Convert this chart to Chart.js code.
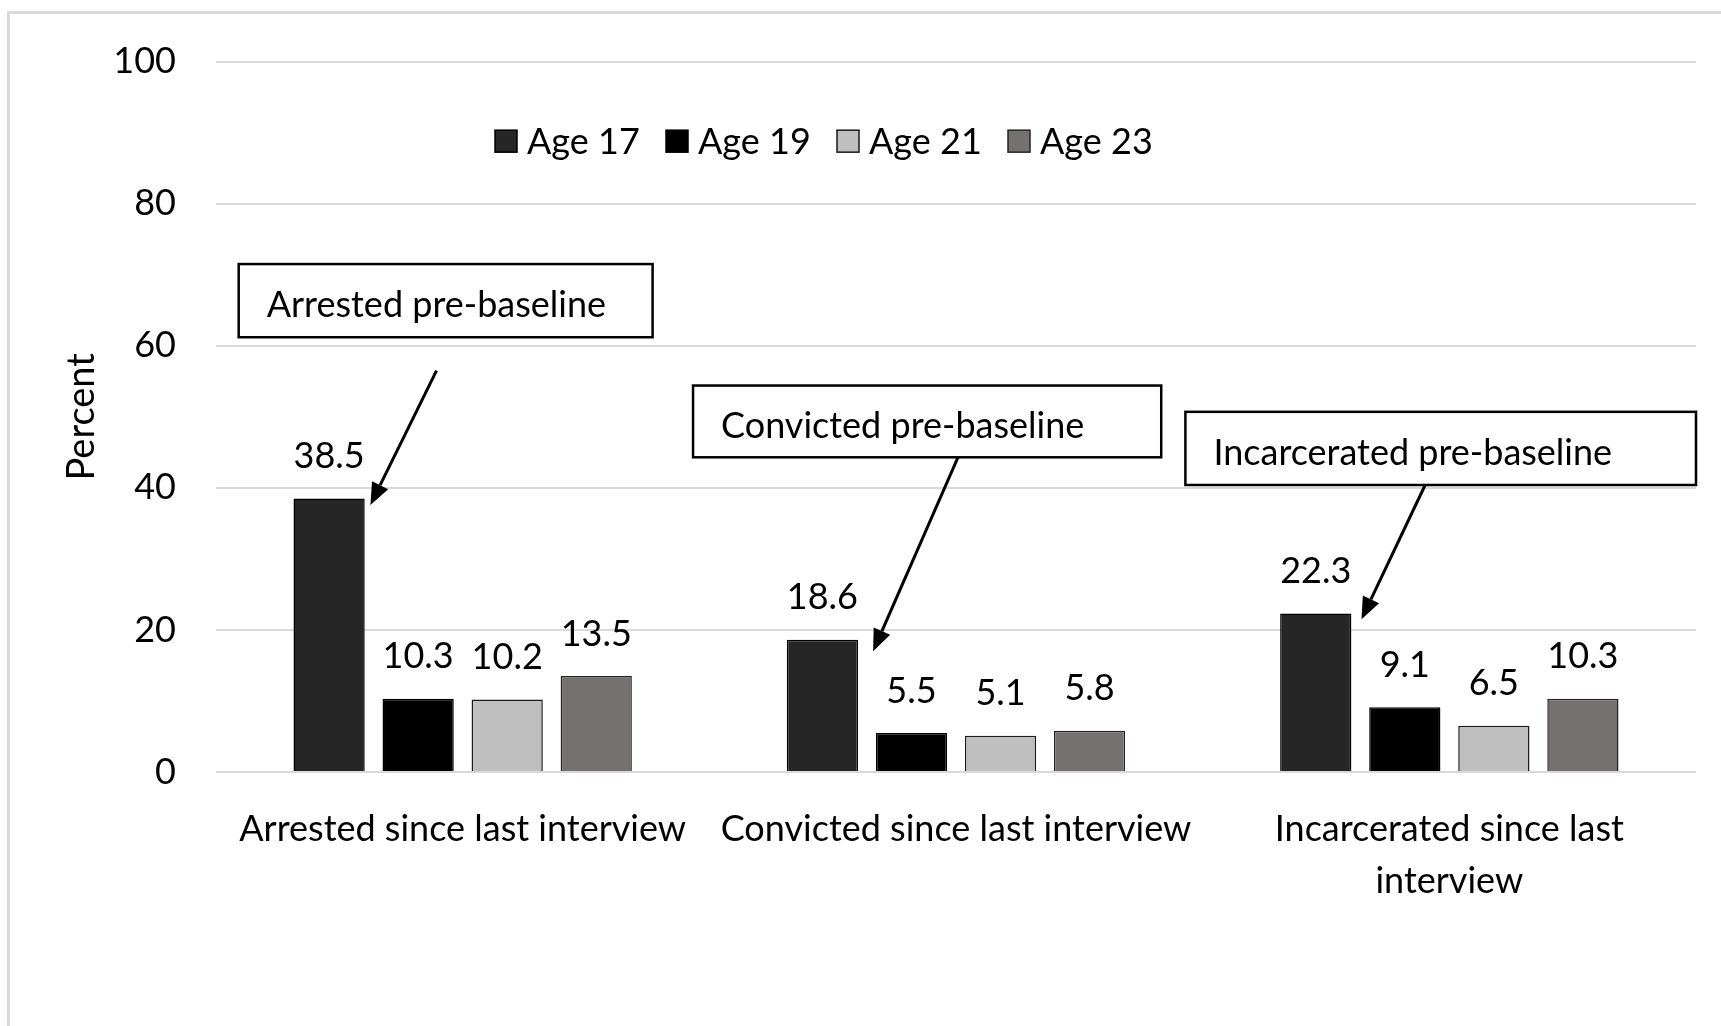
<!DOCTYPE html>
<html>
<head>
<meta charset="utf-8">
<script src="https://cdn.jsdelivr.net/npm/chart.js@4.4.0/dist/chart.umd.min.js"></script>
<style>
  html, body { margin: 0; padding: 0; background: #fff; }
  #wrap { width: 1721px; height: 1026px; position: relative; }
</style>
</head>
<body>
<div id="wrap"><canvas id="offenseChart"></canvas></div>
<script>
// Categories and series values
const categories = [
    ['Arrested since last interview'],
    ['Convicted since last interview'],
    ['Incarcerated since last', 'interview']
];
const seriesNames = ['Age 17', 'Age 19', 'Age 21', 'Age 23'];
const age17 = [38.5, 18.6, 22.3];
const age19 = [10.3, 5.5, 9.1];
const age21 = [10.2, 5.1, 6.5];
const age23 = [13.5, 5.8, 10.3];
const yTicks = [0, 20, 40, 60, 80, 100];
const calloutTexts = ['Arrested pre-baseline', 'Convicted pre-baseline', 'Incarcerated pre-baseline'];

const FONT = 'Lato, "Liberation Sans", sans-serif';
const colors = ['#262626', '#000000', '#bfbfbf', '#767171'];
const borders = ['#000000', '#000000', '#1a1a1a', '#262626'];

// Callout boxes and arrows, in category offsets (x) and percent (y)
const calloutLayout = [
    { box: [-0.454, 0.385, 71.5, 61.2], from: [-0.053, 56.5], to: [-0.187, 37.6] },
    { box: [-0.533, 0.416, 54.4, 44.3], from: [0.004, 44.3], to: [-0.168, 17.0] },
    { box: [-0.535, 0.500, 50.7, 40.4], from: [-0.049, 40.4], to: [-0.178, 21.5] }
];

// Light grey frame around the whole figure
const framePlugin = {
    id: 'frame',
    beforeDraw(chart) {
        const { ctx } = chart;
        ctx.save();
        ctx.strokeStyle = '#d9d9d9';
        ctx.lineWidth = 3;
        ctx.strokeRect(8.5, 12.5, chart.width + 100, chart.height + 100);
        ctx.restore();
    }
};

// Value labels above each bar
const barLabels = {
    id: 'barLabels',
    afterDatasetsDraw(chart) {
        const { ctx } = chart;
        ctx.save();
        ctx.font = '36px ' + FONT;
        ctx.fillStyle = '#000';
        ctx.textAlign = 'center';
        ctx.textBaseline = 'middle';
        chart.data.datasets.forEach((ds, i) => {
            chart.getDatasetMeta(i).data.forEach((bar, j) => {
                ctx.fillText(ds.data[j].toFixed(1), bar.x, bar.y - 42);
            });
        });
        ctx.restore();
    }
};

// Legend drawn inside the plot area
const insideLegend = {
    id: 'insideLegend',
    afterDraw(chart) {
        const { ctx, chartArea } = chart;
        const startX = chartArea.left + 279;
        const cy = chart.scales.y.getPixelForValue(88.8);
        ctx.save();
        ctx.font = '36px ' + FONT;
        ctx.textBaseline = 'middle';
        ctx.textAlign = 'left';
        chart.data.datasets.forEach((ds, i) => {
            const x = startX + i * 171;
            ctx.fillStyle = ds.backgroundColor;
            ctx.fillRect(x, cy - 11, 22, 22);
            ctx.strokeStyle = ds.borderColor;
            ctx.lineWidth = 1.5;
            ctx.strokeRect(x, cy - 11, 22, 22);
            ctx.fillStyle = '#000';
            ctx.fillText(ds.label, x + 32, cy + 1);
        });
        ctx.restore();
    }
};

// Callout boxes with arrows pointing at the Age 17 bars
const callouts = {
    id: 'callouts',
    afterDraw(chart) {
        const { ctx } = chart;
        const xs = chart.scales.x, ys = chart.scales.y;
        const px = (i, off) => xs.getPixelForValue(i) + off * (xs.getPixelForValue(1) - xs.getPixelForValue(0));
        ctx.save();
        calloutLayout.forEach((c, i) => {
            const l = px(i, c.box[0]), r = px(i, c.box[1]);
            const t = ys.getPixelForValue(c.box[2]), b = ys.getPixelForValue(c.box[3]);
            ctx.fillStyle = '#fff';
            ctx.fillRect(l, t, r - l, b - t);
            ctx.strokeStyle = '#000';
            ctx.lineWidth = 2.5;
            ctx.strokeRect(l, t, r - l, b - t);
            ctx.fillStyle = '#000';
            ctx.font = '36px ' + FONT;
            ctx.textAlign = 'left';
            ctx.textBaseline = 'middle';
            ctx.fillText(calloutTexts[i], l + 28, (t + b) / 2 + 5);

            // arrow
            const x1 = px(i, c.from[0]), y1 = ys.getPixelForValue(c.from[1]);
            const x2 = px(i, c.to[0]), y2 = ys.getPixelForValue(c.to[1]);
            const ang = Math.atan2(y2 - y1, x2 - x1);
            const headLen = 22, headW = 9;
            const bx = x2 - headLen * Math.cos(ang), by = y2 - headLen * Math.sin(ang);
            ctx.lineWidth = 3;
            ctx.beginPath();
            ctx.moveTo(x1, y1);
            ctx.lineTo(bx, by);
            ctx.stroke();
            ctx.beginPath();
            ctx.moveTo(x2, y2);
            ctx.lineTo(bx + headW * Math.sin(ang), by - headW * Math.cos(ang));
            ctx.lineTo(bx - headW * Math.sin(ang), by + headW * Math.cos(ang));
            ctx.closePath();
            ctx.fill();
        });
        ctx.restore();
    }
};

const seriesData = [age17, age19, age21, age23];

const config = {
    type: 'bar',
    data: {
        labels: categories,
        datasets: seriesNames.map((name, i) => ({
            label: name,
            data: seriesData[i],
            backgroundColor: colors[i],
            borderColor: borders[i],
            borderWidth: 1.5,
            barPercentage: 0.8,
            categoryPercentage: 0.722
        }))
    },
    options: {
        responsive: true,
        maintainAspectRatio: false,
        animation: false,
        layout: { padding: { left: 50, right: 25, top: 46, bottom: 0 } },
        plugins: {
            legend: { display: false },
            tooltip: { enabled: false }
        },
        scales: {
            x: {
                grid: { display: false },
                border: { display: false },
                ticks: {
                    color: '#000',
                    font: { family: FONT, size: 36, lineHeight: 1.45 },
                    padding: 23,
                    maxRotation: 0,
                    autoSkip: false
                },
                afterFit(scale) { scale.height = 254; }
            },
            y: {
                min: 0,
                max: 100,
                afterBuildTicks(scale) {
                    scale.ticks = yTicks.map(v => ({ value: v }));
                },
                grid: { color: '#d9d9d9', lineWidth: 2, drawTicks: false },
                border: { display: false },
                ticks: {
                    color: '#000',
                    font: { family: FONT, size: 36 },
                    padding: 40
                },
                title: {
                    display: true,
                    text: 'Percent',
                    color: '#000',
                    font: { family: FONT, size: 38 },
                    padding: { top: 9, bottom: 0 }
                },
                afterFit(scale) { scale.width = 166; }
            }
        }
    },
    plugins: [framePlugin, barLabels, insideLegend, callouts]
};

new Chart(document.getElementById('offenseChart'), config);
</script>
</body>
</html>
